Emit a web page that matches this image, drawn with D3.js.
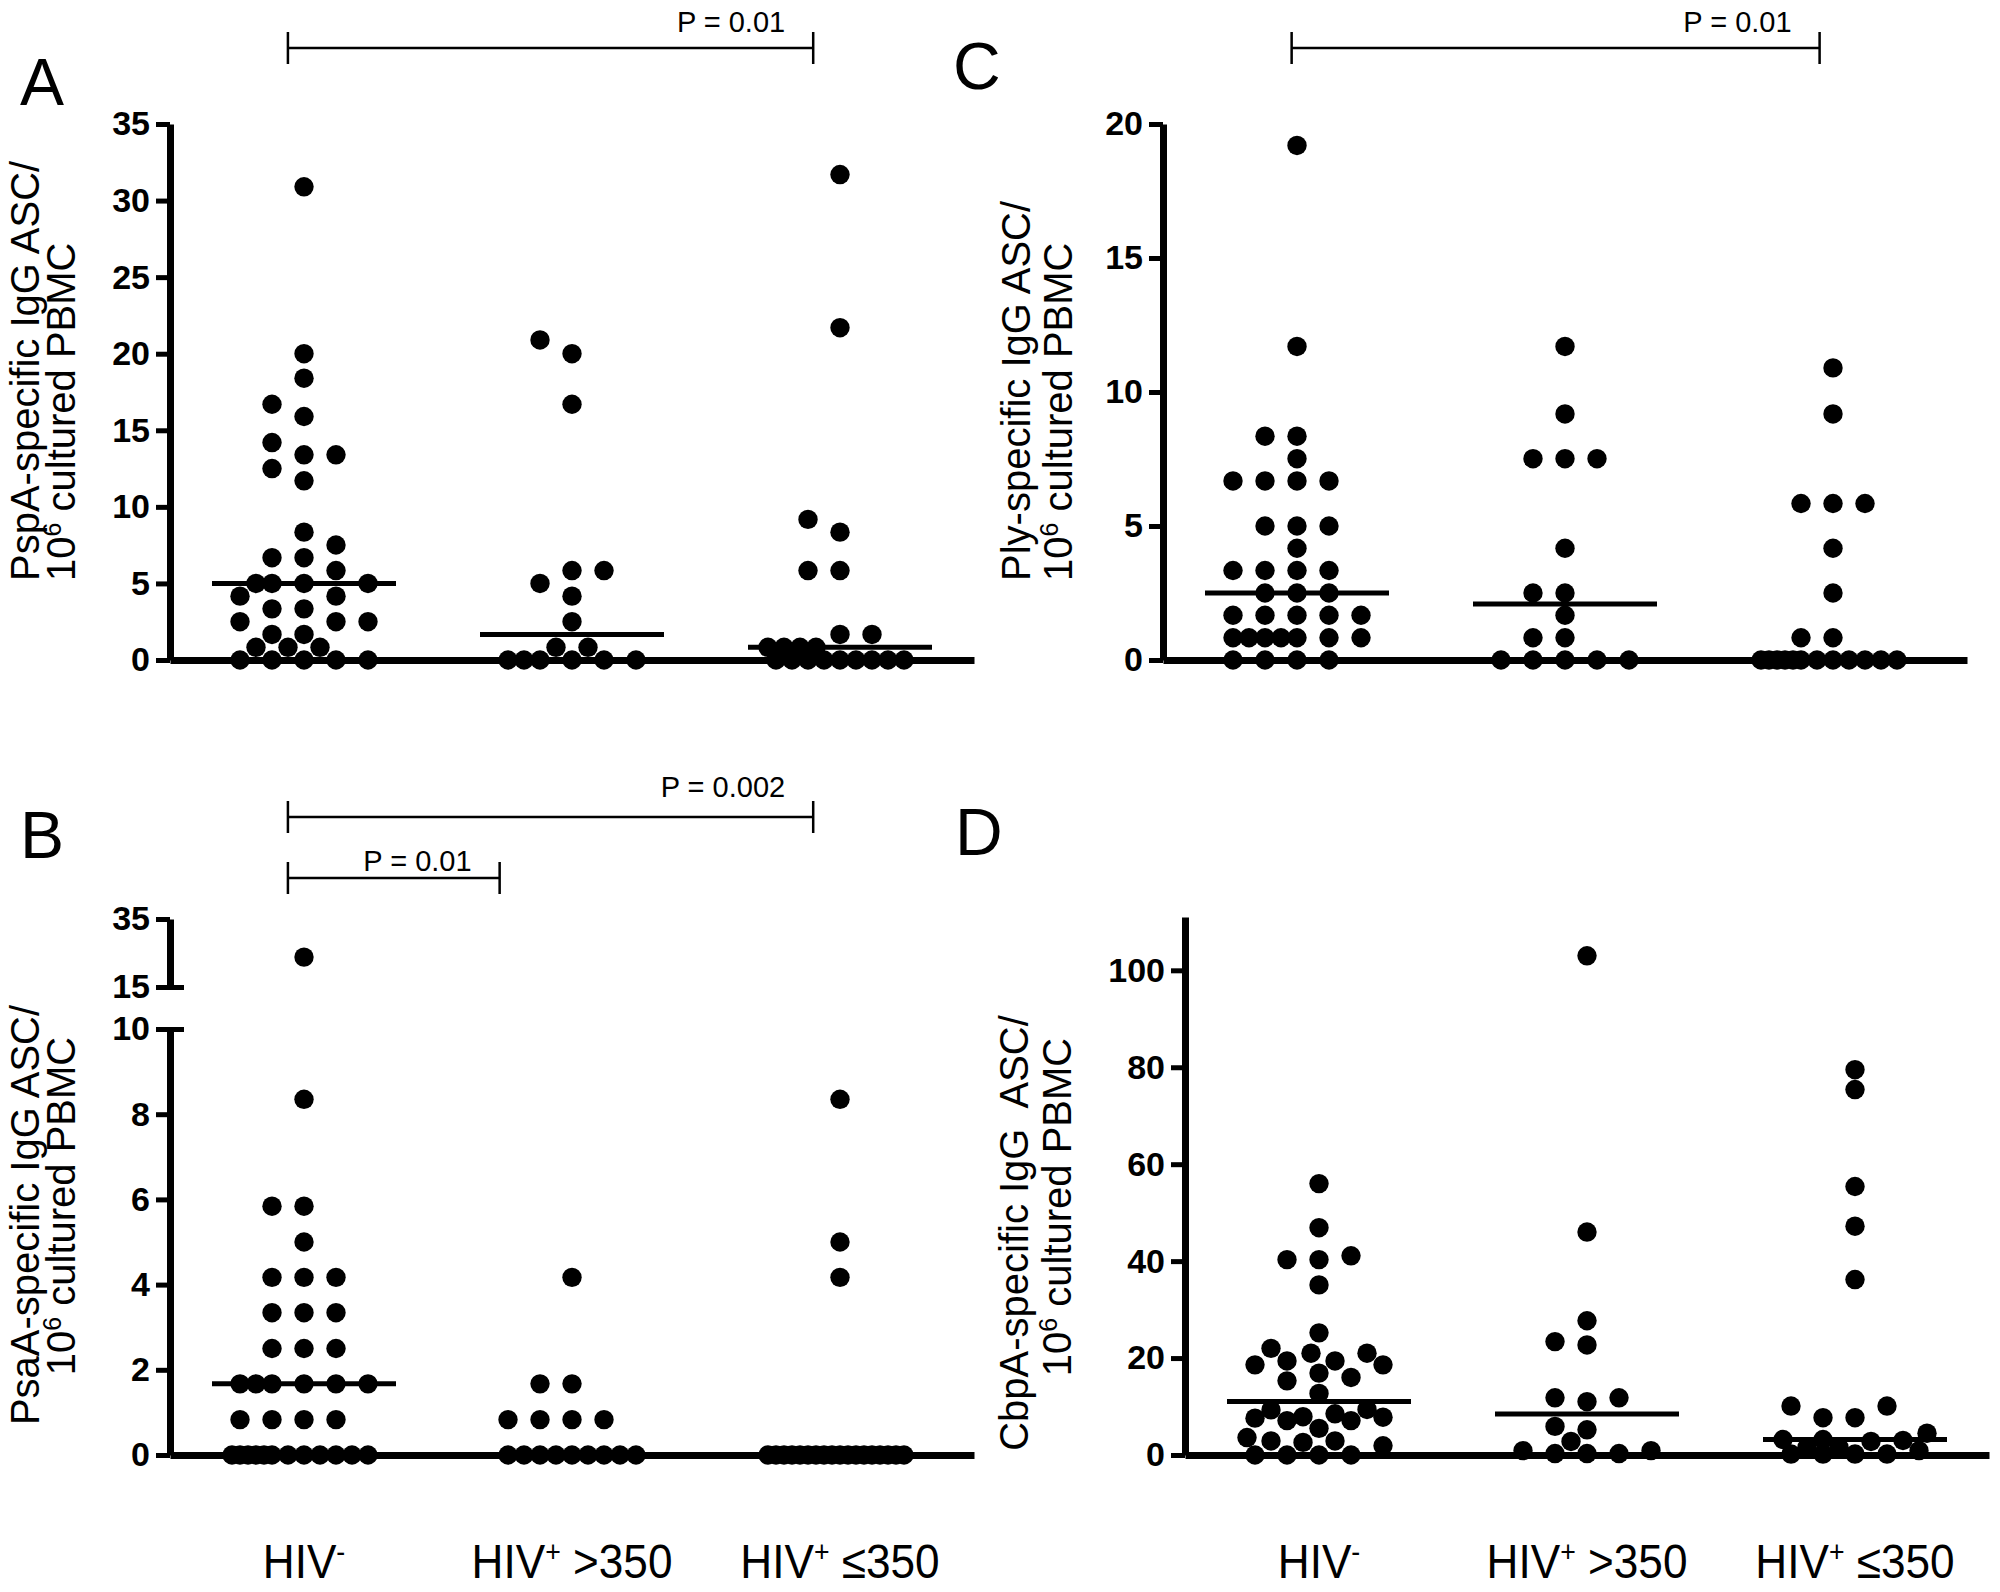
<!DOCTYPE html>
<html>
<head>
<meta charset="utf-8">
<title>Antigen-specific IgG ASC per 10^6 cultured PBMC</title>
<style>
  body { margin: 0; background: #fff; }
  svg { font-family: "Liberation Sans", Arial, Helvetica, sans-serif; }
  .yaxis .tick text { font-size: 34px; font-weight: bold; fill: #000; }
  .yaxis .tick line { stroke: #000; stroke-width: 5; }
  .yaxis .domain, .xaxis .domain { stroke: #000; stroke-width: 7; }
  .ytitle { font-size: 40px; fill: #000; white-space: pre; }
  .xlab { font-size: 48px; fill: #000; }
  .letter { font-size: 66px; fill: #000; }
  .ptext { font-size: 29px; fill: #000; }
</style>
<script src="https://d3js.org/d3.v7.min.js"></script>
</head>
<body>
<script>
// groups on the x axis
var groups = ["HIV-", "HIV+ >350", "HIV+ ≤350"];

// A: PspA-specific IgG ASC / 10^6 PBMC
var pspaNeg  = [0, 0, 0, 0, 0, 0.83, 0.83, 0.83, 1.67, 1.67, 2.5, 2.5, 2.5, 3.34, 3.34, 4.17, 4.17,
                5, 5, 5, 5, 5.84, 6.68, 6.68, 7.51, 8.35, 11.7, 12.5, 13.4, 13.4, 14.2, 15.9, 16.7, 18.4, 20.0, 30.9];
var pspaHigh = [0, 0, 0, 0, 0, 0, 0.83, 0.83, 2.5, 4.17, 5, 5.84, 5.84, 16.7, 20.0, 20.9];
var pspaLow  = [0, 0, 0, 0, 0, 0, 0, 0, 0, 0.83, 0.83, 0.83, 0.83, 1.67, 1.67, 5.84, 5.84, 8.35, 9.18, 21.7, 31.7];

// B: PsaA-specific IgG ASC / 10^6 PBMC (broken axis)
var psaaNeg  = [0, 0, 0, 0, 0, 0, 0, 0, 0, 0, 0, 0, 0.83, 0.83, 0.83, 0.83, 1.67, 1.67, 1.67, 1.67, 1.67, 1.67,
                2.5, 2.5, 2.5, 3.34, 3.34, 3.34, 4.17, 4.17, 4.17, 5, 5.84, 5.84, 8.35, 23.8];
var psaaHigh = [0, 0, 0, 0, 0, 0, 0, 0, 0, 0.83, 0.83, 0.83, 0.83, 1.67, 1.67, 4.17];
var psaaLow  = [0, 0, 0, 0, 0, 0, 0, 0, 0, 0, 0, 0, 0, 0, 0, 0, 0, 0, 4.17, 5, 8.35];

// C: Ply-specific IgG ASC / 10^6 PBMC
var plyNeg  = [0, 0, 0, 0, 0.83, 0.83, 0.83, 0.83, 0.83, 0.83, 0.83, 1.67, 1.67, 1.67, 1.67, 1.67,
               2.5, 2.5, 2.5, 3.34, 3.34, 3.34, 3.34, 4.17, 5, 5, 5, 6.68, 6.68, 6.68, 6.68, 7.51, 8.35, 8.35, 11.7, 19.2];
var plyHigh = [0, 0, 0, 0, 0, 0.83, 0.83, 1.67, 2.5, 2.5, 4.17, 7.51, 7.51, 7.51, 9.18, 11.7];
var plyLow  = [0, 0, 0, 0, 0, 0, 0, 0, 0, 0, 0, 0, 0.83, 0.83, 2.5, 4.17, 5.84, 5.84, 5.84, 9.18, 10.9];

// D: CbpA-specific IgG ASC / 10^6 PBMC
var cbpaNeg  = [0, 0, 0, 0, 1.9, 2.6, 2.9, 2.9, 3.6, 5.5, 7.1, 7.1, 7.6, 7.8, 7.9, 8.5, 9.3, 9.4,
                12.7, 15.3, 16.0, 16.9, 18.6, 18.6, 19.4, 19.4, 21.0, 21.0, 22.0, 25.2, 35.1, 40.3, 40.3, 41.1, 46.9, 56.0];
var cbpaHigh = [0.3, 0.3, 0.3, 0.9, 0.9, 2.8, 5.2, 5.9, 11.0, 11.8, 11.8, 22.7, 23.4, 27.7, 46.0, 103];
var cbpaLow  = [0.2, 0.2, 0.2, 0.2, 0.9, 1.6, 1.6, 2.8, 3.0, 3.2, 3.2, 4.5, 7.7, 7.7, 10.1, 10.1, 36.2, 47.2, 55.4, 75.4, 79.5];

// tick labels
var ticksA = [0, 5, 10, 15, 20, 25, 30, 35];
var ticksC = [0, 5, 10, 15, 20];
var ticksBLow = [0, 2, 4, 6, 8, 10];
var ticksBHigh = [15, 35];
var ticksD = [0, 20, 40, 60, 80, 100];

var w = 2000;
var h = 1592;
var r = 9.7;        // dot radius
var step = 32;      // horizontal spacing of dots in a row
var medHalf = 92;   // half width of the median bar

var svg = d3.select("body").append("svg")
    .attr("width", w)
    .attr("height", h);

// places dots of one group like a prism scatter: rows, then squeezed in
function swarm(values, xc, yf) {
  var placed = [];
  var slots = [0, -1, 1, -2, 2, -0.5, 0.5, -1.5, 1.5];
  var fine = d3.range(-2.25, 2.26, 0.25);
  values.slice().sort(d3.ascending).forEach(function(v) {
    var y = yf(v);
    var minDist = function(x) {
      var m = Infinity;
      placed.forEach(function(p) { m = Math.min(m, Math.hypot(p.x - x, p.y - y)); });
      return m;
    };
    var x = null;
    for (var i = 0; i < slots.length; i++) {
      if (minDist(xc + slots[i] * step) >= 2 * r - 0.5) { x = xc + slots[i] * step; break; }
    }
    if (x === null) {
      var best = -1;
      fine.forEach(function(s) {
        var d = minDist(xc + s * step);
        if (d > best + 0.01) { best = d; x = xc + s * step; }
      });
    }
    placed.push({v: v, x: x, y: y});
  });
  return placed;
}

function drawPanel(p) {
  var g = svg.append("g");

  // category positions
  var x = d3.scalePoint().domain(groups).range([p.axisX, p.axisX + 804]).padding(0.5);
  var xi = d3.scaleLinear().domain([-0.5, 2.5]).range([p.axisX, p.axisX + 804]);

  // y axis (one or two segments)
  p.segments.forEach(function(s) {
    var ax = g.append("g")
        .attr("class", "yaxis")
        .attr("transform", "translate(" + p.axisX + ",0)")
        .call(d3.axisLeft(s.scale).tickValues(s.ticks).tickSize(14).tickSizeOuter(0).tickPadding(6));
    ax.selectAll(".tick line").attr("x1", function(d) { return s.cross && s.cross.indexOf(d) >= 0 ? 14 : 0; });
  });

  // x axis
  g.append("g")
      .attr("class", "xaxis")
      .attr("transform", "translate(0," + p.y0 + ")")
      .call(d3.axisBottom(x).tickSize(0).tickFormat(""));

  // dots and medians
  p.data.forEach(function(vals, i) {
    var xc = x(groups[i]);
    g.append("g").selectAll("circle")
        .data(swarm(vals, xc, p.yf))
        .enter()
        .append("circle")
        .attr("cx", function(d) { return d.x; })
        .attr("cy", function(d) { return d.y; })
        .attr("r", r)
        .attr("fill", "#000");
    var med = d3.median(vals);
    g.append("line")
        .attr("x1", xc - medHalf).attr("x2", xc + medHalf)
        .attr("y1", p.yf(med)).attr("y2", p.yf(med))
        .attr("stroke", "#000").attr("stroke-width", 5);
  });

  // significance brackets
  p.brackets.forEach(function(b) {
    var x1 = xi(b.from), x2 = xi(b.to);
    g.append("path")
        .attr("d", "M" + x1 + "," + (b.y - 16) + "V" + (b.y + 16) + "M" + x1 + "," + b.y + "H" + x2 +
                   "M" + x2 + "," + (b.y - 16) + "V" + (b.y + 16))
        .attr("fill", "none").attr("stroke", "#000").attr("stroke-width", 2.5);
    g.append("text")
        .attr("class", "ptext")
        .attr("x", x2 - 28).attr("y", b.textY)
        .attr("text-anchor", "end")
        .text(b.label);
  });

  // y axis title, two lines, rotated
  g.append("text").attr("class", "ytitle")
      .attr("transform", "translate(" + p.titleX[0] + "," + p.titleY[0] + ") rotate(-90)")
      .attr("text-anchor", p.titleAnchor)
      .text(p.title);
  var t2 = g.append("text").attr("class", "ytitle")
      .attr("transform", "translate(" + p.titleX[1] + "," + p.titleY[1] + ") rotate(-90)")
      .attr("text-anchor", p.titleAnchor);
  t2.append("tspan").text("10");
  t2.append("tspan").attr("baseline-shift", "super").attr("font-size", "25px").text("6");
  t2.append("tspan").text(" cultured PBMC");

  // panel letter
  g.append("text").attr("class", "letter")
      .attr("x", p.letterPos[0]).attr("y", p.letterPos[1])
      .text(p.letter);

  // group labels below the bottom panels (slightly narrow face)
  if (p.xLabels) {
    groups.forEach(function(name) {
      var m = name.match(/^HIV([+-])(.*)$/);
      var t = g.append("text").attr("class", "xlab")
          .attr("transform", "translate(" + x(name) + ",1578) scale(0.92,1)")
          .attr("text-anchor", "middle");
      t.append("tspan").text("HIV");
      t.append("tspan").attr("baseline-shift", "super").attr("font-size", "29px").text(m[1]);
      t.append("tspan").text(m[2]);
    });
  }
}

// A
var yA = d3.scaleLinear().domain([0, 35]).range([660, 124]);
drawPanel({
  letter: "A", letterPos: [20, 105],
  axisX: 170, y0: 660, yf: yA,
  segments: [{scale: yA, ticks: ticksA}],
  data: [pspaNeg, pspaHigh, pspaLow],
  brackets: [{from: -0.06, to: 1.9, y: 48, textY: 32, label: "P = 0.01"}],
  title: "PspA-specific IgG ASC/", titleAnchor: "start",
  titleX: [39, 75], titleY: [581, 581], xLabels: false
});

// C
var yC = d3.scaleLinear().domain([0, 20]).range([660, 124]);
drawPanel({
  letter: "C", letterPos: [953, 89],
  axisX: 1163, y0: 660, yf: yC,
  segments: [{scale: yC, ticks: ticksC}],
  data: [plyNeg, plyHigh, plyLow],
  brackets: [{from: -0.02, to: 1.95, y: 48, textY: 32, label: "P = 0.01"}],
  title: "Ply-specific IgG ASC/", titleAnchor: "start",
  titleX: [1030, 1072], titleY: [581, 581], xLabels: false
});

// B, broken axis
var yBLow = d3.scaleLinear().domain([0, 10]).range([1455, 1029]);
var yBHigh = d3.scaleLinear().domain([15, 35]).range([987, 919]);
var yB = function(v) { return v <= 10 ? yBLow(v) : yBHigh(v); };
drawPanel({
  letter: "B", letterPos: [20, 858],
  axisX: 170, y0: 1455, yf: yB,
  segments: [{scale: yBLow, ticks: ticksBLow, cross: [10]}, {scale: yBHigh, ticks: ticksBHigh, cross: [15]}],
  data: [psaaNeg, psaaHigh, psaaLow],
  brackets: [{from: -0.06, to: 1.9, y: 817, textY: 797, label: "P = 0.002"},
             {from: -0.06, to: 0.73, y: 878, textY: 871, label: "P = 0.01"}],
  title: "PsaA-specific IgG ASC/", titleAnchor: "middle",
  titleX: [39, 75], titleY: [1215, 1206], xLabels: true
});

// D
var yD = d3.scaleLinear().domain([0, 111]).range([1455, 917]);
drawPanel({
  letter: "D", letterPos: [955, 855],
  axisX: 1185, y0: 1455, yf: yD,
  segments: [{scale: yD, ticks: ticksD}],
  data: [cbpaNeg, cbpaHigh, cbpaLow],
  brackets: [],
  title: "CbpA-specific IgG  ASC/", titleAnchor: "middle",
  titleX: [1028, 1071], titleY: [1233, 1207], xLabels: true
});
</script>
</body>
</html>
